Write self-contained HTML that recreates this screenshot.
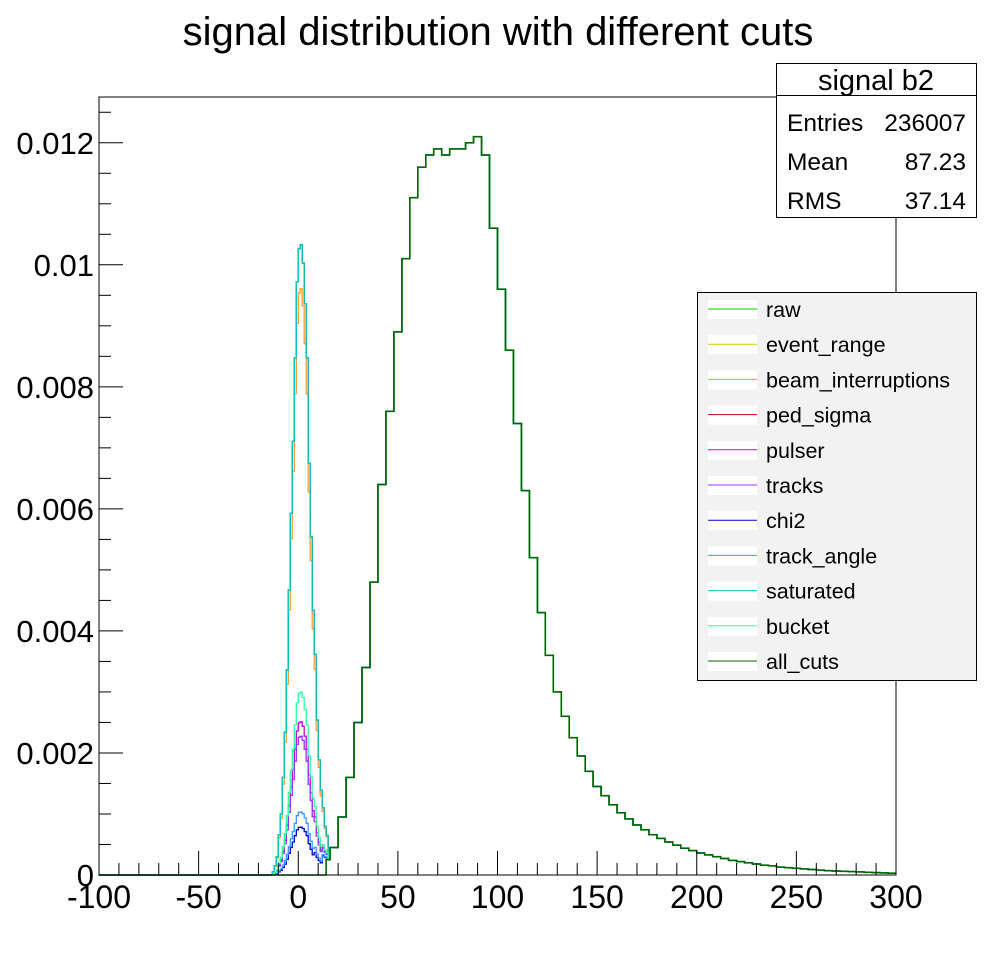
<!DOCTYPE html>
<html><head><meta charset="utf-8"><style>
body{margin:0;background:#fff;}
svg text{font-family:"Liberation Sans",sans-serif;}
</style></head><body>
<svg id="c" width="996" height="972" xmlns="http://www.w3.org/2000/svg">
<rect width="996" height="972" fill="#fff"/>
<text x="498" y="45" font-size="40" text-anchor="middle">signal distribution with different cuts</text>
<g id="plot"></g>
<g id="axes"></g>
<g>
<rect x="776.5" y="63.5" width="200" height="154" fill="#fff" stroke="#000"/>
<line x1="776" y1="95.5" x2="976" y2="95.5" stroke="#000"/>
<text x="876" y="90" font-size="29" text-anchor="middle">signal b2</text>
<text x="787" y="131" font-size="24.5">Entries</text><text x="966" y="131" font-size="24.5" text-anchor="end">236007</text>
<text x="787" y="170" font-size="24.5">Mean</text><text x="966" y="170" font-size="24.5" text-anchor="end">87.23</text>
<text x="787" y="209" font-size="24.5">RMS</text><text x="966" y="209" font-size="24.5" text-anchor="end">37.14</text>
</g>
<g id="legend">
<rect x="697.5" y="292.5" width="279" height="388" fill="#f2f2f2" stroke="#000"/>
</g>
</svg>
<script>
const xMin=-100, xMax=300, yMax=0.01275;
// main signal distribution (x0.001), 4-unit bins from -100
const mainValues=[0,0,0,0,0,0,0,0,0,0,0,0,0,0,0,0,0,0,0,0,0,0,0,0,0,0,0,0.1,0.25,0.45,
0.95,1.6,2.5,3.4,4.8,6.4,7.6,8.9,10.1,11.1,11.6,11.8,11.9,11.8,11.9,11.9,12.0,12.1,11.8,10.6,
9.6,8.6,7.4,6.3,5.2,4.3,3.6,3.0,2.6,2.25,1.95,1.7,1.45,1.3,1.15,1.02,0.92,0.82,0.74,0.66,
0.6,0.54,0.49,0.44,0.4,0.36,0.33,0.3,0.27,0.24,0.22,0.2,0.18,0.16,0.15,0.13,0.12,0.11,0.1,0.09,
0.08,0.07,0.065,0.06,0.055,0.05,0.045,0.04,0.035,0.03];
// pedestal peak shape (x0.001), 1-unit bins from -15 to 15
const pedValues=[0,0,0.05,0.15,0.3,0.66,1.0,1.6,2.34,3.36,4.67,5.93,7.11,8.48,9.72,
10.26,10.33,10.03,9.36,8.48,6.75,5.54,4.34,3.52,2.44,1.79,1.29,0.85,0.55,0.4];
const seriesNames=["raw","event_range","beam_interruptions","ped_sigma","pulser","tracks","chi2","track_angle","saturated","bucket","all_cuts"];
const seriesColors=["#00cc00","#cccc00","#ff9933","#cc0000","#cc00cc","#9933ff","#0000cc","#3399ff","#00cccc","#33ff99","#006600"];
const pedScale=[1,1,0.93,1,0.243,0.22,0.076,0.1,1,0.29,0];
const cutMin=[-100,-100,-100,-100,-100,-100,-100,-100,-100,-100,14];
const xTicks=[-100,-50,0,50,100,150,200,250,300];
const yTicks=[0,0.002,0.004,0.006,0.008,0.01,0.012];
const yTickLabels=["0","0.002","0.004","0.006","0.008","0.01","0.012"];

const L=99,R=896,T=97,B=875;
const sx=v=>L+(v-xMin)/(xMax-xMin)*(R-L);
const sy=v=>B-v/yMax*(B-T);
const NS="http://www.w3.org/2000/svg";
function mk(tag,attrs,parent){const e=document.createElementNS(NS,tag);for(const k in attrs)e.setAttribute(k,attrs[k]);parent.appendChild(e);return e;}
const plot=document.getElementById('plot'),axes=document.getElementById('axes'),leg=document.getElementById('legend');

seriesNames.forEach((name,s)=>{
  let d="";
  for(let i=0;i<400;i++){
    const x0=xMin+i,x1=x0+1;
    let v=mainValues[Math.floor(i/4)];
    const pi=x0+15;
    if(pi>=0&&pi<pedValues.length)v+=pedValues[pi]*pedScale[s];
    if(x0<cutMin[s])v=0;
    const y=sy(v*0.001);
    d+=(i===0?"M":"L")+sx(x0).toFixed(1)+","+y.toFixed(1)+"L"+sx(x1).toFixed(1)+","+y.toFixed(1);
  }
  const p=mk('path',{d:d,fill:"none",stroke:seriesColors[s],"stroke-width":s===10?1.6:1.3},plot);
  
  
  const ly=309+s*35.2;
  const sw=mk('rect',{x:708,y:ly-9,width:49,height:19,fill:"#fff"},leg);
  
  
  mk('line',{x1:708,y1:ly,x2:757,y2:ly,stroke:seriesColors[s],"stroke-width":1},leg);
  const t=mk('text',{x:766,y:ly+8,"font-size":21.5},leg);
  t.textContent=name;
  
  
});

const fr=mk('rect',{x:L,y:T,width:R-L,height:B-T,fill:"none",stroke:"#000","stroke-width":1},axes);


for(let v=xMin;v<=xMax;v+=10){
  const major=(v%50===0);
  mk('line',{x1:sx(v),y1:B,x2:sx(v),y2:B-(major?24:12),stroke:"#000"},axes);
}
xTicks.forEach(v=>{
  const t=mk('text',{x:sx(v),y:908,"font-size":32,"text-anchor":"middle"},axes);
  t.textContent=String(v);
  
  
});
for(let k=0;k*0.0005<=yMax;k++){
  const v=k*0.0005,major=(k%4===0);
  mk('line',{x1:L,y1:sy(v),x2:L+(major?24:12),y2:sy(v),stroke:"#000"},axes);
}
yTicks.forEach((v,i)=>{
  const t=mk('text',{x:94,y:sy(v)+11,"font-size":31,"text-anchor":"end"},axes);
  t.textContent=yTickLabels[i];
  
  
});
</script>
</body></html>
